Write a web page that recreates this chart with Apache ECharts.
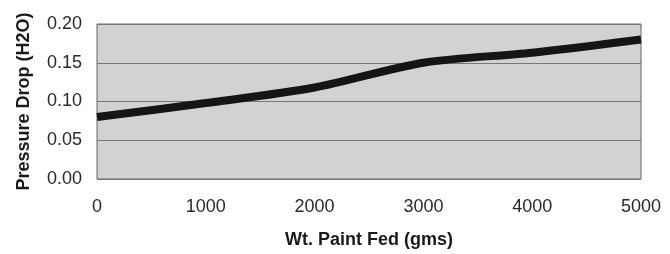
<!DOCTYPE html>
<html>
<head>
<meta charset="utf-8">
<script src="https://cdn.jsdelivr.net/npm/echarts@6/dist/echarts.min.js"></script>
<style>
  html, body { margin: 0; padding: 0; background: #fff; }
  #chart { width: 670px; height: 254px; }
</style>
</head>
<body>
<div id="chart"></div>
<script>
// values
const paintFed = [0, 1000, 2000, 3000, 4000, 5000];
const pressureDrop = [0.08, 0.098, 0.118, 0.15, 0.163, 0.18];
const xTicks = [0, 1000, 2000, 3000, 4000, 5000];
const yTicks = [0, 0.05, 0.1, 0.15, 0.2];

const myChart = echarts.init(document.getElementById("chart"));
const font = "Liberation Sans, Arial, sans-serif";

const option = {
  animation: false,
  grid: {
    left: 97,
    right: 29,
    top: 24,
    bottom: 75,
    show: true,
    backgroundColor: "#d2d2d2",
    borderColor: "#666",
    borderWidth: 1,
  },
  xAxis: {
    type: "value",
    min: xTicks[0],
    max: xTicks[xTicks.length - 1],
    interval: 1000,
    name: "Wt. Paint Fed (gms)",
    nameLocation: "middle",
    nameGap: 52,
    nameTextStyle: { fontFamily: font, fontSize: 18, fontWeight: "bold", color: "#1a1a1a" },
    axisLine: { show: false },
    axisTick: { show: false },
    splitLine: { show: false },
    axisLabel: {
      fontFamily: font,
      fontSize: 18,
      color: "#2a2a2a",
      margin: 19,
      formatter: (v) => String(v),
    },
  },
  yAxis: {
    type: "value",
    min: yTicks[0],
    max: yTicks[yTicks.length - 1],
    interval: 0.05,
    name: "Pressure Drop (H2O)",
    nameLocation: "middle",
    nameGap: 64,
    nameTextStyle: { fontFamily: font, fontSize: 18, fontWeight: "bold", color: "#1a1a1a" },
    axisLine: { show: false },
    axisTick: { show: false },
    splitLine: { lineStyle: { color: "#777", width: 1 } },
    axisLabel: {
      fontFamily: font,
      fontSize: 18,
      color: "#2a2a2a",
      margin: 15,
      formatter: (v) => v.toFixed(2),
    },
  },
  series: [
    {
      type: "line",
      data: paintFed.map((x, i) => [x, pressureDrop[i]]),
      smooth: 0.3,
      symbol: "none",
      lineStyle: { color: "#151515", width: 8 },
    },
  ],
};

myChart.setOption(option);
</script>
</body>
</html>
